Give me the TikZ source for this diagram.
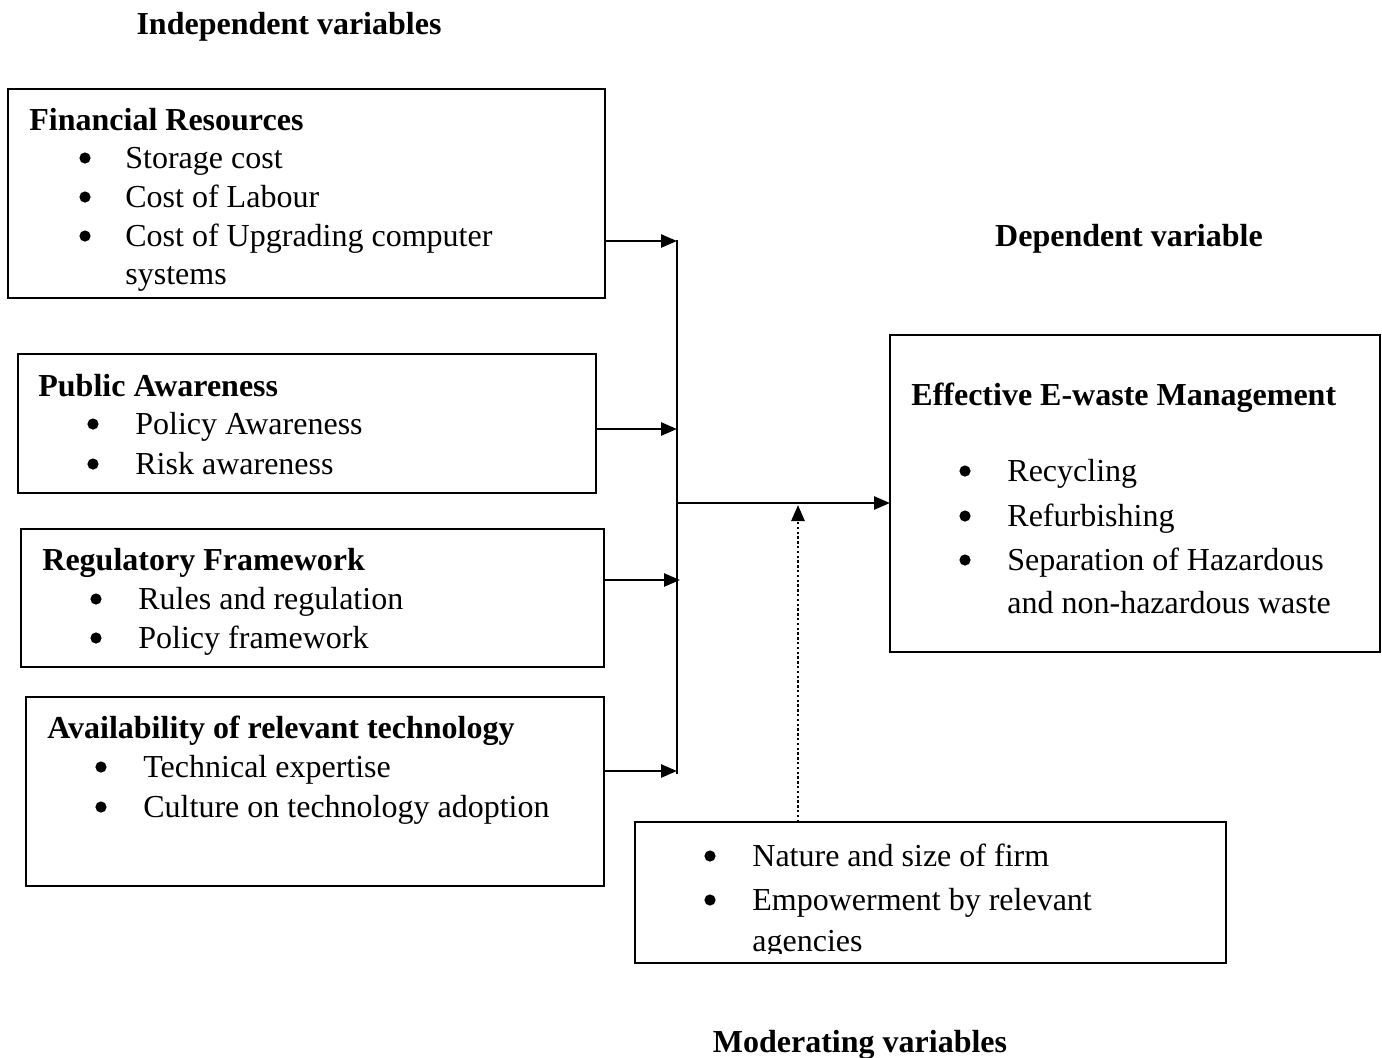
\documentclass[tikz,border=0pt]{standalone}
\usepackage{fontspec}
\setmainfont{Liberation Serif}
\usetikzlibrary{arrows.meta,fit}
\begin{document}
\begin{tikzpicture}[x=0.5pt,y=-0.5pt,
  box/.style={draw,line width=0.9pt,inner sep=0pt,outer sep=0pt},
  txt/.style={anchor=base west,inner sep=0pt,font=\fontsize{16}{19}\selectfont},
  hd/.style={anchor=base west,inner sep=0pt,font=\fontsize{16}{19}\selectfont\bfseries},
  ttl/.style={anchor=base,inner sep=0pt,font=\fontsize{16}{19}\selectfont\bfseries},
  arr/.style={line width=1.3pt,-{Triangle[length=8pt,width=6.5pt]}},
  bus/.style={line width=1.3pt},
  modarr/.style={line width=1.4pt,dash pattern=on 1.2pt off 1.2pt,-{Triangle[length=8pt,width=6.5pt]}},
  dot/.style={fill=black}]
\useasboundingbox (0,0) rectangle (1382,1057);
% boxes
\node[box,fit={(8,89) (605,298)}] (fin) {};
\node[box,fit={(18,354) (596,493)}] (pub) {};
\node[box,fit={(21,529) (604,667)}] (reg) {};
\node[box,fit={(26,697) (604,886)}] (tec) {};
\node[box,fit={(890,335) (1380,652)}] (eff) {};
\node[box,fit={(635,822) (1226,963)}] (mod) {};
% headings
\node[ttl] (t1) at (289,34) {Independent variables};
\node[ttl] (t2) at (1129,246) {Dependent variable};
\node[ttl] (t3) at (860,1052) {Moderating variables};
% box 1
\node[hd] (h1) at (29,130) {Financial Resources};
\node[txt] (a1) at (125,168) {Storage cost};
\node[txt] (a2) at (125,207) {Cost of Labour};
\node[txt] (a3) at (125,246) {Cost of Upgrading computer};
\node[txt] (a4) at (125,284) {systems};
\foreach \y in {158,197,236} \fill[dot] (85,\y) circle (2.8pt);
% box 2
\node[hd] (h2) at (38,396) {Public Awareness};
\node[txt] (b1) at (135,434) {Policy Awareness};
\node[txt] (b2) at (135,474) {Risk awareness};
\foreach \y in {424,464} \fill[dot] (93,\y) circle (2.8pt);
% box 3
\node[hd] (h3) at (42,570) {Regulatory Framework};
\node[txt] (c1) at (138,609) {Rules and regulation};
\node[txt] (c2) at (138,648) {Policy framework};
\foreach \y in {599,638} \fill[dot] (96,\y) circle (2.8pt);
% box 4
\node[hd] (h4) at (47,738) {Availability of relevant technology};
\node[txt] (d1) at (143,777) {Technical expertise};
\node[txt] (d2) at (143,817) {Culture on technology adoption};
\foreach \y in {767,807} \fill[dot] (101,\y) circle (2.8pt);
% box 5
\node[hd] (h5) at (911,405) {Effective E-waste Management};
\node[txt] (e1) at (1007,481) {Recycling};
\node[txt] (e2) at (1007,526) {Refurbishing};
\node[txt] (e3) at (1007,570) {Separation of Hazardous};
\node[txt] (e4) at (1007,613) {and non-hazardous waste};
\foreach \y in {471,516,560} \fill[dot] (965,\y) circle (2.8pt);
% box 6
\node[txt] (m1) at (752,866) {Nature and size of firm};
\node[txt] (m2) at (752,910) {Empowerment by relevant};
\begin{scope}
\clip (700,920) rectangle (1000,953);
\node[txt] (m3) at (752,951) {agencies};
\end{scope}
\foreach \y in {856,900} \fill[dot] (710,\y) circle (2.8pt);
% connectors
\coordinate (p1) at (677,241);
\coordinate (p2) at (677,429);
\coordinate (p3) at (680,580);
\coordinate (p4) at (677,771);
\coordinate (btop) at (677,240);
\coordinate (bbot) at (677,774);
\coordinate (pm) at (678,503);
\coordinate (pd) at (798,505);
\draw[bus] (btop) -- (bbot);
\draw[arr] (fin.east |- p1) -- (p1);
\draw[arr] (pub.east |- p2) -- (p2);
\draw[arr] (reg.east |- p3) -- (p3);
\draw[arr] (tec.east |- p4) -- (p4);
\draw[arr] (pm) -- (eff.west |- pm);
\draw[modarr] (mod.north -| pd) -- (pd);
\end{tikzpicture}
\end{document}
